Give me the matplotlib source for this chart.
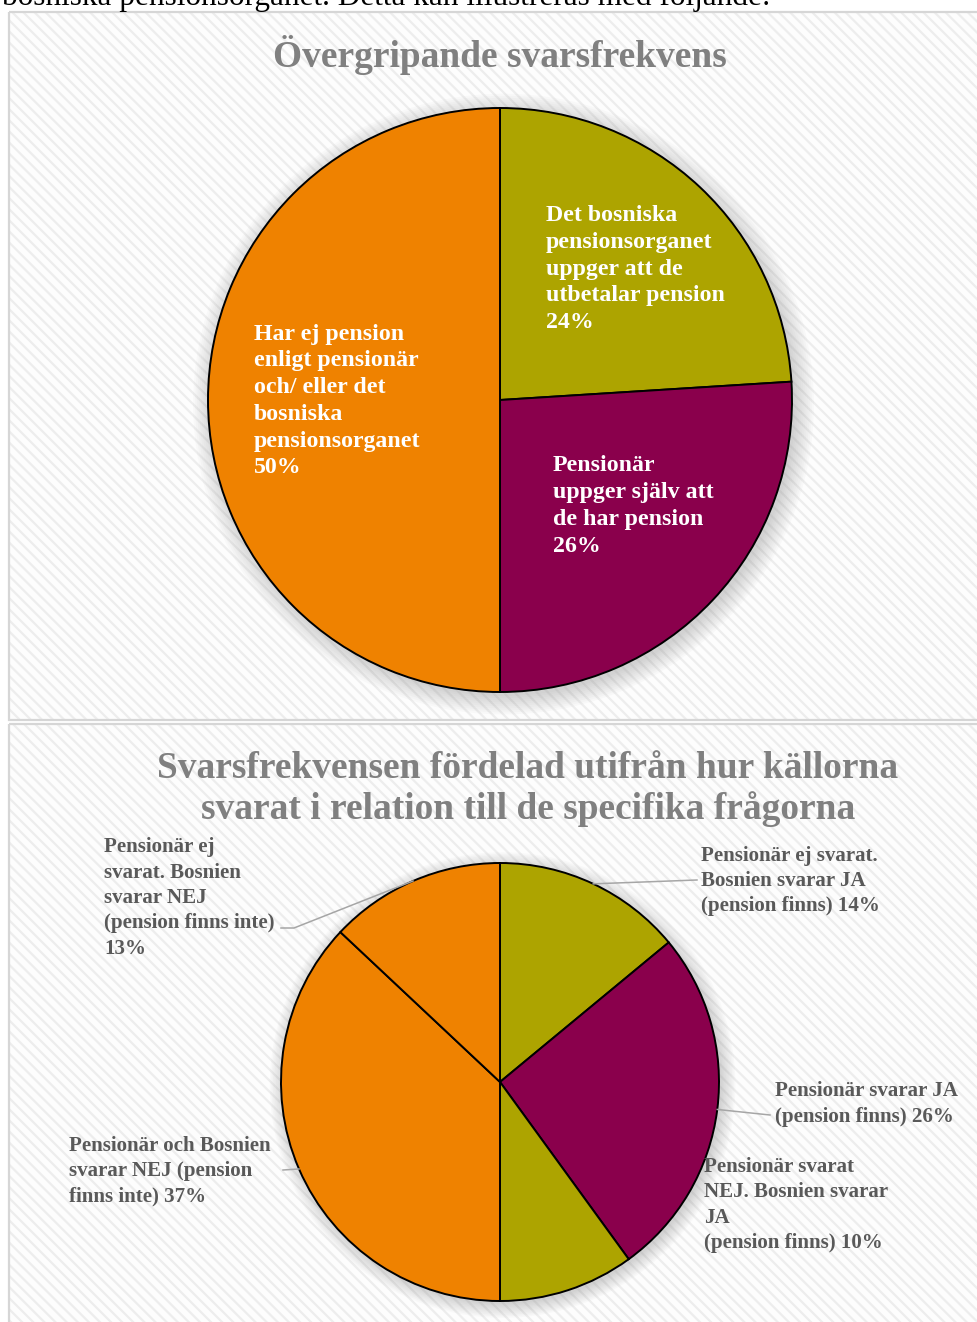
import matplotlib
matplotlib.use("Agg")
import numpy as np
import matplotlib.pyplot as plt
from matplotlib.patches import Rectangle, Circle
from matplotlib.lines import Line2D

W, H = 978, 1322
SERIF = ["Liberation Serif", "DejaVu Serif"]

OLIVE = "#ADA400"
PURPLE = "#8A004C"
ORANGE = "#EF8200"

# diagram 1
titel1 = "Övergripande svarsfrekvens"
etiketter1 = [
    "Det bosniska\npensionsorganet\nuppger att de\nutbetalar pension",
    "Pensionär\nuppger själv att\nde har pension",
    "Har ej pension\nenligt pensionär\noch/ eller det\nbosniska\npensionsorganet",
]
andel1 = [24, 26, 50]
farger1 = [OLIVE, PURPLE, ORANGE]

# diagram 2
titel2 = "Svarsfrekvensen fördelad utifrån hur källorna\nsvarat i relation till de specifika frågorna"
etiketter2 = [
    "Pensionär ej svarat.\nBosnien svarar JA\n(pension finns)",
    "Pensionär svarar JA\n(pension finns)",
    "Pensionär svarat\nNEJ. Bosnien svarar\nJA\n(pension finns)",
    "Pensionär och Bosnien\nsvarar NEJ (pension\nfinns inte)",
    "Pensionär ej\nsvarat. Bosnien\nsvarar NEJ\n(pension finns inte)",
]
andel2 = [14, 26, 10, 37, 13]
farger2 = [OLIVE, PURPLE, OLIVE, ORANGE, ORANGE]
skiljetecken2 = [" ", " ", " ", " ", "\n"]  # mellan etikett och procent

plt.rcParams["hatch.linewidth"] = 1.6

fig = plt.figure(figsize=(W / 100, H / 100), dpi=100)
fig.patch.set_facecolor("white")

bg = fig.add_axes([0, 0, 1, 1])
bg.set_xlim(0, W)
bg.set_ylim(H, 0)
bg.axis("off")

# bakgrundspaneler med diagonal randning
for (y0, h) in [(12, 708), (724, 610)]:
    bg.add_patch(Rectangle((9, y0), 980, h, facecolor="#FDFDFD",
                           edgecolor="#EDEDED", hatch="\\\\\\", linewidth=0))
    bg.add_patch(Rectangle((9, y0), 980, h, facecolor="none",
                           edgecolor="#D6D6D6", linewidth=1.6))

# brödtext ovanför (avskuren i originalet)
bg.text(2, 5, "bosniska pensionsorganet. Detta kan illustreras med följande:",
        fontsize=22.5, family=SERIF, color="black", va="baseline", ha="left")


def pie_axes(cx, cy, r):
    ax = fig.add_axes([(cx - r) / W, (H - cy - r) / H, 2 * r / W, 2 * r / H])
    ax.patch.set_alpha(0)
    # mjuk skugga
    for i in range(10):
        ax.add_patch(Circle((0.012, -0.014), 1.0 + 0.007 * i, facecolor="#808080",
                            edgecolor="none", alpha=0.035, clip_on=False, zorder=0))
    return ax


def finish(ax):
    ax.set_xlim(-1, 1)
    ax.set_ylim(-1, 1)
    ax.set_aspect("equal")
    ax.axis("off")


# ---- diagram 1 ----
C1, R1 = (500, 400), 292
ax1 = pie_axes(*C1, R1)
ax1.pie(andel1, colors=farger1, startangle=90, counterclock=False, radius=1,
        wedgeprops=dict(edgecolor="black", linewidth=1.4))
finish(ax1)

bg.text(500, 55, titel1, fontsize=26.9, family=SERIF, weight="bold",
        color="#808080", ha="center", va="center")

pos1 = [(546, 269), (553, 506), (254, 401)]
for (x, y), lab, v in zip(pos1, etiketter1, andel1):
    fig.text(x, y, f"{lab}\n{v}%", transform=bg.transData, fontsize=17.2,
             family=SERIF, weight="bold", color="white", ha="left", va="center",
             linespacing=1.36)

# ---- diagram 2 ----
C2, R2 = (500, 1082), 219
ax2 = pie_axes(*C2, R2)
wedges2, _ = ax2.pie(andel2, colors=farger2, startangle=90, counterclock=False,
                     radius=1, wedgeprops=dict(edgecolor="black", linewidth=1.4))
finish(ax2)

bg.text(528, 789, titel2, fontsize=26.9, family=SERIF, weight="bold",
        color="#808080", ha="center", va="center", linespacing=1.2)

pos2 = [(701, 881), (775, 1104), (704, 1205), (69, 1171), (104, 898)]
ledare = [
    [(697, 880)],
    [(770, 1115)],
    None,
    [(283, 1170)],
    [(294, 928), (281, 928)],
]
for w, (x, y), lab, sep, v, led in zip(wedges2, pos2, etiketter2, skiljetecken2,
                                       andel2, ledare):
    fig.text(x, y, f"{lab}{sep}{v}%", transform=bg.transData, fontsize=15.1,
             family=SERIF, weight="bold", color="#595959", ha="left",
             va="center", linespacing=1.36)
    if led is None:
        continue
    mid = np.deg2rad((w.theta1 + w.theta2) / 2)
    ax_pt = (C2[0] + R2 * np.cos(mid), C2[1] - R2 * np.sin(mid))
    pts = [ax_pt] + led
    fig.add_artist(Line2D([p[0] for p in pts], [p[1] for p in pts],
                          transform=bg.transData, color="#A6A6A6", linewidth=1.1))

fig.savefig("out.png", dpi=100)
